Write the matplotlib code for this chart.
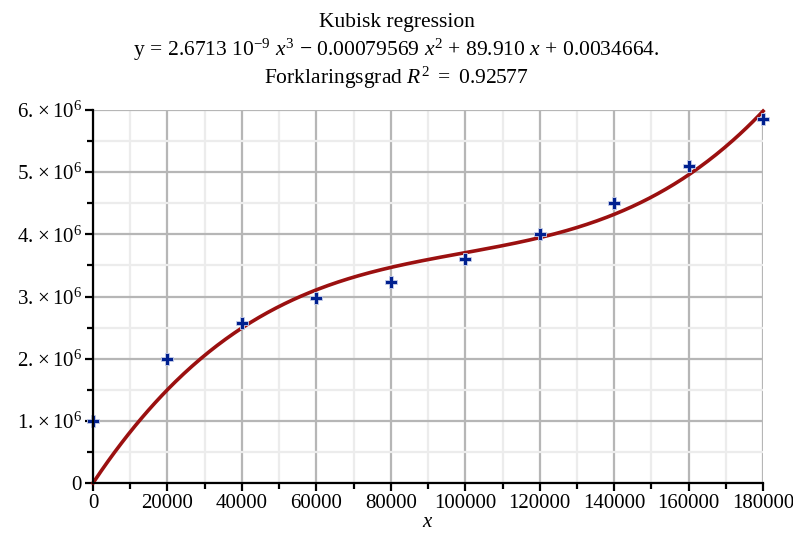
import numpy as np
import matplotlib
matplotlib.use("Agg")
import matplotlib.pyplot as plt
from matplotlib.ticker import MultipleLocator, FuncFormatter

plt.rcParams['font.family'] = ['Liberation Serif', 'DejaVu Serif']
plt.rcParams['mathtext.fontset'] = 'custom'
plt.rcParams['mathtext.rm'] = 'Liberation Serif'
plt.rcParams['mathtext.it'] = 'Liberation Serif:italic'

# measured points
x_data = [0, 20000, 40000, 60000, 80000, 100000, 120000, 140000, 160000, 180000]
y_data = [1.0e6, 2.0e6, 2.57e6, 2.97e6, 3.24e6, 3.60e6, 4.0e6, 4.50e6, 5.10e6, 5.85e6]

# cubic regression coefficients (highest power first)
coef = [2.6713e-9, -0.00079569, 89.910, 0.0034664]
r2 = 0.92577

fig = plt.figure(figsize=(7.93, 5.34), dpi=100)
ax = fig.add_axes([0.1173, 0.0955, 0.845, 0.6985])

xs = np.linspace(0, 180000, 400)
ax.plot(xs, np.polyval(coef, xs), color='#9b1010', lw=2.6, zorder=3, clip_on=False)
ax.plot(x_data, y_data, ls='none', marker='P', ms=8, color='#00208f',
        mec='#c8d0ea', mew=0.6, zorder=4, clip_on=False)

ax.set_xlim(0, 180000)
ax.set_ylim(0, 6e6)
ax.xaxis.set_major_locator(MultipleLocator(20000))
ax.xaxis.set_minor_locator(MultipleLocator(10000))
ax.yaxis.set_major_locator(MultipleLocator(1e6))
ax.yaxis.set_minor_locator(MultipleLocator(0.5e6))

def ylab(v, pos):
    if v == 0:
        return "0"
    return r"%d. $\times\,10^{6}$" % round(v / 1e6)

ax.yaxis.set_major_formatter(FuncFormatter(ylab))
ax.xaxis.set_major_formatter(FuncFormatter(lambda v, p: "%d" % v))

ax.grid(which='major', color='#b6b6b6', lw=1.6)
ax.grid(which='minor', color='#ececec', lw=1.6)
ax.set_axisbelow(True)

for s in ['top', 'right']:
    ax.spines[s].set_visible(False)
for s in ['left', 'bottom']:
    ax.spines[s].set_linewidth(1.6)
    ax.spines[s].set_zorder(5)

ax.tick_params(which='major', length=6, width=1.6, labelsize=15, pad=2)
ax.tick_params(which='minor', length=4, width=1.6)

ax.set_xlabel(r"$x$", fontsize=15, labelpad=0)

fig.text(0.5, 0.958, "Kubisk regression", ha='center', va='center', fontsize=15.5)
fig.text(0.5, 0.906,
         r"y$\,=\,$2.6713 10$^{-9}$ $x^3$ $-$ 0.00079569 $x^2$ + 89.910 $x$ + 0.0034664.",
         ha='center', va='center', fontsize=15.5)
fig.text(0.5, 0.855, r"Forklaringsgrad $R^2$ $=$ %.5f" % r2, ha='center', va='center',
         fontsize=15.5)

fig.savefig("out.png", dpi=100)
